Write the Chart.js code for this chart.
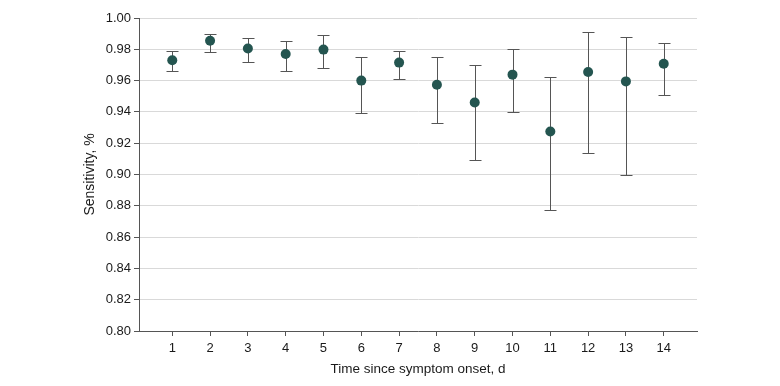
<!DOCTYPE html>
<html>
<head>
<meta charset="utf-8">
<script src="https://cdn.jsdelivr.net/npm/chart.js@4"></script>
<style>
  html, body { margin: 0; padding: 0; background: #fff; }
  #wrap { width: 780px; height: 386px; position: relative; }
</style>
</head>
<body>
<div id="wrap"><canvas id="c" width="780" height="386"></canvas></div>
<script>
const days = [1, 2, 3, 4, 5, 6, 7, 8, 9, 10, 11, 12, 13, 14];
const sensitivity = [0.973, 0.9855, 0.9805, 0.977, 0.9798, 0.960, 0.9715, 0.9573, 0.946, 0.9638, 0.9275, 0.9655, 0.9595, 0.9708];
const ciLower = [0.966, 0.978, 0.972, 0.966, 0.968, 0.939, 0.961, 0.933, 0.909, 0.940, 0.877, 0.914, 0.900, 0.951];
const ciUpper = [0.979, 0.990, 0.987, 0.985, 0.989, 0.975, 0.979, 0.975, 0.970, 0.980, 0.962, 0.991, 0.988, 0.984];
const yTicks = [0.80, 0.82, 0.84, 0.86, 0.88, 0.90, 0.92, 0.94, 0.96, 0.98, 1.00];

const FONT = 'Liberation Sans, Arial, sans-serif';

const errorBars = {
  id: 'errorBars',
  beforeDatasetsDraw(chart) {
    const ctx = chart.ctx;
    const xs = chart.scales.x, ys = chart.scales.y;
    ctx.save();
    ctx.strokeStyle = '#555555';
    ctx.lineWidth = 1;
    days.forEach((d, i) => {
      const x = Math.round(xs.getPixelForValue(d)) + 0.5;
      const yl = Math.round(ys.getPixelForValue(ciLower[i])) + 0.5;
      const yu = Math.round(ys.getPixelForValue(ciUpper[i])) + 0.5;
      const cap = 6;
      ctx.beginPath();
      ctx.moveTo(x, yl); ctx.lineTo(x, yu);
      ctx.moveTo(x - cap, yl); ctx.lineTo(x + cap, yl);
      ctx.moveTo(x - cap, yu); ctx.lineTo(x + cap, yu);
      ctx.stroke();
    });
    ctx.restore();
  }
};

new Chart(document.getElementById('c'), {
  type: 'scatter',
  data: {
    datasets: [{
      data: days.map((d, i) => ({ x: d, y: sensitivity[i] })),
      backgroundColor: '#245550',
      borderColor: '#245550',
      pointRadius: 5,
      pointHoverRadius: 5,
      borderWidth: 0
    }]
  },
  options: {
    responsive: false,
    animation: false,
    devicePixelRatio: 1,
    layout: { padding: { left: 80, right: 83, top: 18, bottom: 0 } },
    plugins: { legend: { display: false }, tooltip: { enabled: false } },
    scales: {
      x: {
        type: 'linear',
        min: 0.12,
        max: 14.88,
        afterBuildTicks(scale) { scale.ticks = days.map(v => ({ value: v })); },
        afterFit(scale) { scale.height = 55; },
        ticks: {
          color: '#1a1a1a',
          font: { family: FONT, size: 13 },
          padding: 5,
          maxRotation: 0,
          callback: v => String(v)
        },
        grid: { drawOnChartArea: false, drawTicks: true, tickLength: 5, tickColor: '#555555' },
        border: { display: true, color: '#555555', width: 1 },
        title: {
          display: true,
          text: 'Time since symptom onset, d',
          color: '#1a1a1a',
          font: { family: FONT, size: 13.5 },
          padding: { top: 0, bottom: 9 }
        }
      },
      y: {
        min: 0.80,
        max: 1.00,
        afterBuildTicks(scale) { scale.ticks = yTicks.map(v => ({ value: v })); },
        afterFit(scale) { scale.width = 139 - 80; },
        ticks: {
          color: '#1a1a1a',
          font: { family: FONT, size: 13 },
          padding: 3,
          callback: v => Number(v).toFixed(2)
        },
        grid: { color: '#d9d9d9', lineWidth: 1, drawTicks: true, tickLength: 5, tickColor: '#555555' },
        border: { display: true, color: '#555555', width: 1 },
        title: {
          display: true,
          text: 'Sensitivity, %',
          color: '#1a1a1a',
          font: { family: FONT, size: 14 },
          padding: { top: 2, bottom: 0 }
        }
      }
    }
  },
  plugins: [errorBars]
});
</script>
</body>
</html>
